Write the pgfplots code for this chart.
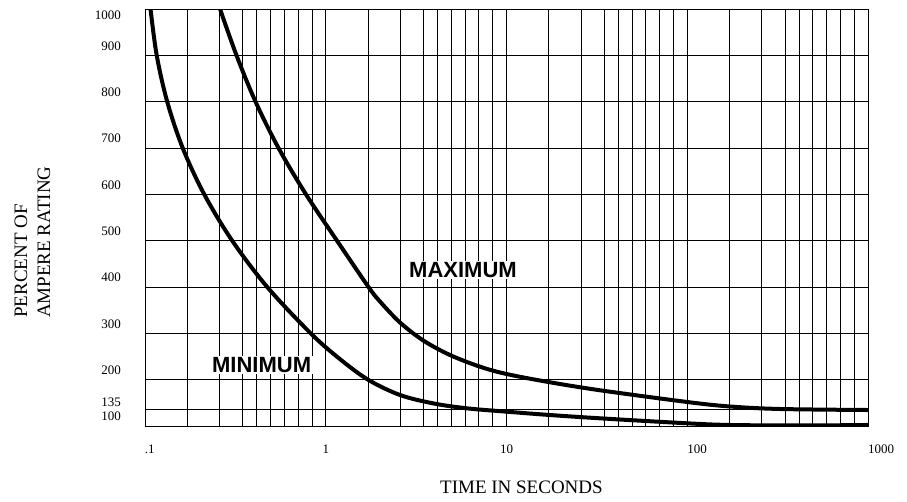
\documentclass[border=0pt]{standalone}
\usepackage{fontspec}
\setmainfont{Liberation Serif}
\newfontfamily\labelsans{Liberation Sans}
\usepackage{pgfplots}
\pgfplotsset{compat=1.18}
\usepackage{pgfplotstable}

\pgfplotstableread{
t v
0.1073 1000
0.1161 900
0.1327 800
0.1617 700
0.2127 600
0.3037 500
0.4745 400
0.8256 300
1.189 245.5
1.713 200
2.575 166.9
3.936 148.8
6.024 138.2
10.02 130.9
17.40 123.7
32.91 116.6
100 105.8
172.4 102.2
420.5 101.1
1000 102.2
}\mincurve

\pgfplotstableread{
t v
0.2601 1000
0.3208 900
0.4088 800
0.5479 700
0.7775 600
1.154 500
1.724 400
1.996 368.7
2.575 323.4
3.465 284.5
4.868 253.2
7.136 228.0
10.02 212.2
16.69 195.6
32.91 177.1
100 151.8
172.4 142.1
326.0 136.7
1000 134.5
}\maxcurve

\begin{document}
\begin{tikzpicture}
\useasboundingbox (0,0) rectangle (907bp,502bp);
\begin{axis}[
  at={(145bp,76bp)}, anchor=south west,
  scale only axis, width=723bp, height=417bp,
  xmode=log, log basis x=10,
  xmin=0.1, xmax=1000, ymin=100, ymax=1000,
  /pgf/number format/assume math mode=true,
  xtick={0.1,1,10,100,1000},
  xticklabels={\makebox[0pt][l]{.1},1,10,\makebox[0pt][l]{100},\makebox[0pt][l]{1000}},
  minor xtick={0.1714,0.2584,0.3472,0.4150,0.4947,0.5898,0.7023,0.8394,
               1.714,2.584,3.472,4.150,4.947,5.898,7.023,8.394,
               17.14,25.84,34.72,41.50,49.47,58.98,70.23,83.94,
               171.4,258.4,347.2,415.0,494.7,589.8,702.3,839.4},
  ytick={100,135,200,300,400,500,600,700,800,900,1000},
  yticklabels={},
  extra y ticks={120,152,220,320,420,520,620,720,820,920,987},
  extra y tick labels={100,135,200,300,400,500,600,700,800,900,1000},
  extra y tick style={grid=none, major tick length=0pt,
     yticklabel style={xshift=-20.7bp}},
  xmajorgrids, xminorgrids, ymajorgrids,
  major grid style={black, line width=0.9bp},
  minor grid style={black, line width=0.9bp},
  axis line style={black, line width=0.9bp},
  major tick length=0pt, minor tick length=0pt,
  tick label style={font=\fontsize{13bp}{15bp}\selectfont, text=black},
  xticklabel style={yshift=-15bp},
  xlabel={TIME IN SECONDS},
  xlabel style={at={(axis description cs:0.5207,0)}, anchor=center, yshift=-61bp,
     font=\fontsize{19bp}{23bp}\selectfont},
  ylabel={PERCENT OF\\AMPERE RATING},
  ylabel style={at={(axis description cs:-0.1556,0.259)}, anchor=west, inner sep=0pt,
     align=left, font=\fontsize{19bp}{23bp}\selectfont},
]
\addplot[black, line width=4bp, smooth, tension=0.55] table[x=t, y=v] {\mincurve};
\addplot[black, line width=4bp, smooth, tension=0.55] table[x=t, y=v] {\maxcurve};
\node[fill=white, inner sep=1.5bp, font=\labelsans\bfseries\fontsize{22bp}{24bp}\selectfont] at (axis cs:5.745,437) {MAXIMUM};
\node[fill=white, inner sep=1.5bp, font=\labelsans\bfseries\fontsize{22bp}{24bp}\selectfont] at (axis cs:0.442,231.6) {MINIMUM};
\end{axis}
\end{tikzpicture}
\end{document}
